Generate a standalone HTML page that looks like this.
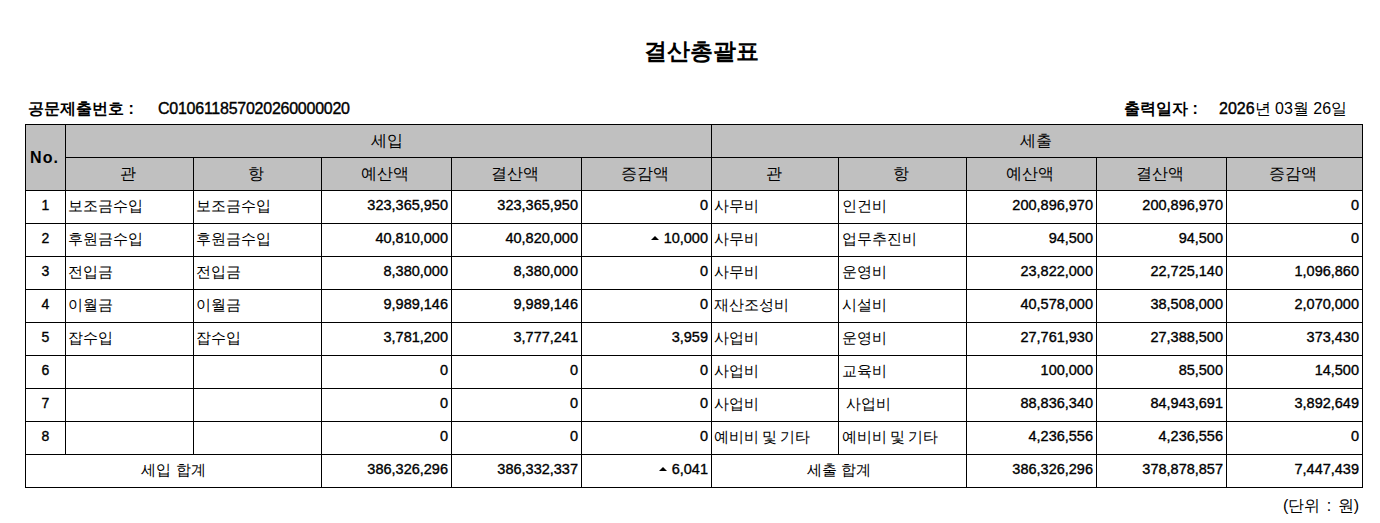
<!DOCTYPE html>
<html><head><meta charset="utf-8"><style>
html,body{margin:0;padding:0;background:#fff;}
body{width:1380px;height:523px;position:relative;overflow:hidden;font-family:"Liberation Sans",sans-serif;color:#000;}
.bg{position:absolute;background:#c0c0c0;}
.ln{position:absolute;background:#000;}
.cell{position:absolute;display:flex;align-items:center;box-sizing:border-box;white-space:nowrap;}
.ac{justify-content:center;}
.hd.ac{padding-right:3px;}
.ar{justify-content:flex-end;padding-right:3px;}
.al{justify-content:flex-start;padding-left:2px;}
.al.k6{padding-left:2px;}
.al.k7{padding-left:3px;}
.hno{font-size:16px;font-weight:bold;letter-spacing:1px;padding-right:2px;}
.hd{font-size:16px;}
.no{font-size:14px;-webkit-text-stroke:0.35px #000;padding-bottom:4px;}
.num{font-size:14.5px;-webkit-text-stroke:0.35px #000;padding-bottom:4px;}
.kr{font-size:14.8px;padding-bottom:2px;}
.ws{word-spacing:-1px;}
.tot{font-size:15px;padding-bottom:2px;}
.tri{display:inline-block;width:0;height:0;border-left:4px solid transparent;border-right:4px solid transparent;border-bottom:4px solid #000;margin-right:5px;vertical-align:middle;position:relative;top:-1px;}
.t{position:absolute;white-space:nowrap;line-height:1;}
</style></head><body>
<div class="t" style="left:0;width:1402px;text-align:center;top:41px;font-size:22.5px;font-weight:bold;">결산총괄표</div>
<div class="t" style="left:28px;top:101px;font-size:16px;font-weight:bold;">공문제출번호 :</div>
<div class="t" style="left:158px;top:101px;font-size:16px;letter-spacing:-0.25px;-webkit-text-stroke:0.4px #000;">C010611857020260000020</div>
<div class="t" style="left:1124px;top:101px;font-size:16px;font-weight:bold;">출력일자 :</div>
<div class="t" style="left:1219px;top:101px;font-size:16px;"><span style="-webkit-text-stroke:0.4px #000">2026</span>년 03월 26일</div>
<div class="bg" style="left:25px;top:124px;width:1337px;height:66px"></div>
<div class="ln" style="left:25px;top:124px;width:1338px;height:1px"></div>
<div class="ln" style="left:65px;top:157px;width:1298px;height:1px"></div>
<div class="ln" style="left:25px;top:190px;width:1338px;height:1px"></div>
<div class="ln" style="left:25px;top:223px;width:1338px;height:1px"></div>
<div class="ln" style="left:25px;top:256px;width:1338px;height:1px"></div>
<div class="ln" style="left:25px;top:289px;width:1338px;height:1px"></div>
<div class="ln" style="left:25px;top:322px;width:1338px;height:1px"></div>
<div class="ln" style="left:25px;top:355px;width:1338px;height:1px"></div>
<div class="ln" style="left:25px;top:388px;width:1338px;height:1px"></div>
<div class="ln" style="left:25px;top:421px;width:1338px;height:1px"></div>
<div class="ln" style="left:25px;top:454px;width:1338px;height:1px"></div>
<div class="ln" style="left:25px;top:487px;width:1338px;height:1px"></div>
<div class="ln" style="left:25px;top:124px;width:1px;height:364px"></div>
<div class="ln" style="left:1362px;top:124px;width:1px;height:364px"></div>
<div class="ln" style="left:65px;top:124px;width:1px;height:331px"></div>
<div class="ln" style="left:711px;top:124px;width:1px;height:364px"></div>
<div class="ln" style="left:193px;top:157px;width:1px;height:298px"></div>
<div class="ln" style="left:321px;top:157px;width:1px;height:331px"></div>
<div class="ln" style="left:451px;top:157px;width:1px;height:331px"></div>
<div class="ln" style="left:581px;top:157px;width:1px;height:331px"></div>
<div class="ln" style="left:966px;top:157px;width:1px;height:331px"></div>
<div class="ln" style="left:1096px;top:157px;width:1px;height:331px"></div>
<div class="ln" style="left:1226px;top:157px;width:1px;height:331px"></div>
<div class="ln" style="left:838px;top:157px;width:1px;height:298px"></div>
<div class="cell hno ac" style="left:26px;top:125px;width:39px;height:65px"><span>No.</span></div>
<div class="cell hd ac" style="left:66px;top:125px;width:645px;height:32px"><span>세입</span></div>
<div class="cell hd ac" style="left:712px;top:125px;width:650px;height:32px"><span>세출</span></div>
<div class="cell hd ac" style="left:66px;top:158px;width:127px;height:32px"><span>관</span></div>
<div class="cell hd ac" style="left:194px;top:158px;width:127px;height:32px"><span>항</span></div>
<div class="cell hd ac" style="left:322px;top:158px;width:129px;height:32px"><span>예산액</span></div>
<div class="cell hd ac" style="left:452px;top:158px;width:129px;height:32px"><span>결산액</span></div>
<div class="cell hd ac" style="left:582px;top:158px;width:129px;height:32px"><span>증감액</span></div>
<div class="cell hd ac" style="left:712px;top:158px;width:126px;height:32px"><span>관</span></div>
<div class="cell hd ac" style="left:839px;top:158px;width:127px;height:32px"><span>항</span></div>
<div class="cell hd ac" style="left:967px;top:158px;width:129px;height:32px"><span>예산액</span></div>
<div class="cell hd ac" style="left:1097px;top:158px;width:129px;height:32px"><span>결산액</span></div>
<div class="cell hd ac" style="left:1227px;top:158px;width:135px;height:32px"><span>증감액</span></div>
<div class="cell no ac" style="left:26px;top:191px;width:39px;height:32px"><span>1</span></div>
<div class="cell kr k al" style="left:66px;top:191px;width:127px;height:32px"><span>보조금수입</span></div>
<div class="cell kr k al" style="left:194px;top:191px;width:127px;height:32px"><span>보조금수입</span></div>
<div class="cell num ar" style="left:322px;top:191px;width:129px;height:32px"><span>323,365,950</span></div>
<div class="cell num ar" style="left:452px;top:191px;width:129px;height:32px"><span>323,365,950</span></div>
<div class="cell num ar" style="left:582px;top:191px;width:129px;height:32px"><span>0</span></div>
<div class="cell kr k6 al" style="left:712px;top:191px;width:126px;height:32px"><span>사무비</span></div>
<div class="cell kr k7 al" style="left:839px;top:191px;width:127px;height:32px"><span>인건비</span></div>
<div class="cell num ar" style="left:967px;top:191px;width:129px;height:32px"><span>200,896,970</span></div>
<div class="cell num ar" style="left:1097px;top:191px;width:129px;height:32px"><span>200,896,970</span></div>
<div class="cell num ar" style="left:1227px;top:191px;width:135px;height:32px"><span>0</span></div>
<div class="cell no ac" style="left:26px;top:224px;width:39px;height:32px"><span>2</span></div>
<div class="cell kr k al" style="left:66px;top:224px;width:127px;height:32px"><span>후원금수입</span></div>
<div class="cell kr k al" style="left:194px;top:224px;width:127px;height:32px"><span>후원금수입</span></div>
<div class="cell num ar" style="left:322px;top:224px;width:129px;height:32px"><span>40,810,000</span></div>
<div class="cell num ar" style="left:452px;top:224px;width:129px;height:32px"><span>40,820,000</span></div>
<div class="cell num ar" style="left:582px;top:224px;width:129px;height:32px"><span><i class="tri"></i>10,000</span></div>
<div class="cell kr k6 al" style="left:712px;top:224px;width:126px;height:32px"><span>사무비</span></div>
<div class="cell kr k7 al" style="left:839px;top:224px;width:127px;height:32px"><span>업무추진비</span></div>
<div class="cell num ar" style="left:967px;top:224px;width:129px;height:32px"><span>94,500</span></div>
<div class="cell num ar" style="left:1097px;top:224px;width:129px;height:32px"><span>94,500</span></div>
<div class="cell num ar" style="left:1227px;top:224px;width:135px;height:32px"><span>0</span></div>
<div class="cell no ac" style="left:26px;top:257px;width:39px;height:32px"><span>3</span></div>
<div class="cell kr k al" style="left:66px;top:257px;width:127px;height:32px"><span>전입금</span></div>
<div class="cell kr k al" style="left:194px;top:257px;width:127px;height:32px"><span>전입금</span></div>
<div class="cell num ar" style="left:322px;top:257px;width:129px;height:32px"><span>8,380,000</span></div>
<div class="cell num ar" style="left:452px;top:257px;width:129px;height:32px"><span>8,380,000</span></div>
<div class="cell num ar" style="left:582px;top:257px;width:129px;height:32px"><span>0</span></div>
<div class="cell kr k6 al" style="left:712px;top:257px;width:126px;height:32px"><span>사무비</span></div>
<div class="cell kr k7 al" style="left:839px;top:257px;width:127px;height:32px"><span>운영비</span></div>
<div class="cell num ar" style="left:967px;top:257px;width:129px;height:32px"><span>23,822,000</span></div>
<div class="cell num ar" style="left:1097px;top:257px;width:129px;height:32px"><span>22,725,140</span></div>
<div class="cell num ar" style="left:1227px;top:257px;width:135px;height:32px"><span>1,096,860</span></div>
<div class="cell no ac" style="left:26px;top:290px;width:39px;height:32px"><span>4</span></div>
<div class="cell kr k al" style="left:66px;top:290px;width:127px;height:32px"><span>이월금</span></div>
<div class="cell kr k al" style="left:194px;top:290px;width:127px;height:32px"><span>이월금</span></div>
<div class="cell num ar" style="left:322px;top:290px;width:129px;height:32px"><span>9,989,146</span></div>
<div class="cell num ar" style="left:452px;top:290px;width:129px;height:32px"><span>9,989,146</span></div>
<div class="cell num ar" style="left:582px;top:290px;width:129px;height:32px"><span>0</span></div>
<div class="cell kr k6 al" style="left:712px;top:290px;width:126px;height:32px"><span>재산조성비</span></div>
<div class="cell kr k7 al" style="left:839px;top:290px;width:127px;height:32px"><span>시설비</span></div>
<div class="cell num ar" style="left:967px;top:290px;width:129px;height:32px"><span>40,578,000</span></div>
<div class="cell num ar" style="left:1097px;top:290px;width:129px;height:32px"><span>38,508,000</span></div>
<div class="cell num ar" style="left:1227px;top:290px;width:135px;height:32px"><span>2,070,000</span></div>
<div class="cell no ac" style="left:26px;top:323px;width:39px;height:32px"><span>5</span></div>
<div class="cell kr k al" style="left:66px;top:323px;width:127px;height:32px"><span>잡수입</span></div>
<div class="cell kr k al" style="left:194px;top:323px;width:127px;height:32px"><span>잡수입</span></div>
<div class="cell num ar" style="left:322px;top:323px;width:129px;height:32px"><span>3,781,200</span></div>
<div class="cell num ar" style="left:452px;top:323px;width:129px;height:32px"><span>3,777,241</span></div>
<div class="cell num ar" style="left:582px;top:323px;width:129px;height:32px"><span>3,959</span></div>
<div class="cell kr k6 al" style="left:712px;top:323px;width:126px;height:32px"><span>사업비</span></div>
<div class="cell kr k7 al" style="left:839px;top:323px;width:127px;height:32px"><span>운영비</span></div>
<div class="cell num ar" style="left:967px;top:323px;width:129px;height:32px"><span>27,761,930</span></div>
<div class="cell num ar" style="left:1097px;top:323px;width:129px;height:32px"><span>27,388,500</span></div>
<div class="cell num ar" style="left:1227px;top:323px;width:135px;height:32px"><span>373,430</span></div>
<div class="cell no ac" style="left:26px;top:356px;width:39px;height:32px"><span>6</span></div>
<div class="cell kr k al" style="left:66px;top:356px;width:127px;height:32px"><span></span></div>
<div class="cell kr k al" style="left:194px;top:356px;width:127px;height:32px"><span></span></div>
<div class="cell num ar" style="left:322px;top:356px;width:129px;height:32px"><span>0</span></div>
<div class="cell num ar" style="left:452px;top:356px;width:129px;height:32px"><span>0</span></div>
<div class="cell num ar" style="left:582px;top:356px;width:129px;height:32px"><span>0</span></div>
<div class="cell kr k6 al" style="left:712px;top:356px;width:126px;height:32px"><span>사업비</span></div>
<div class="cell kr k7 al" style="left:839px;top:356px;width:127px;height:32px"><span>교육비</span></div>
<div class="cell num ar" style="left:967px;top:356px;width:129px;height:32px"><span>100,000</span></div>
<div class="cell num ar" style="left:1097px;top:356px;width:129px;height:32px"><span>85,500</span></div>
<div class="cell num ar" style="left:1227px;top:356px;width:135px;height:32px"><span>14,500</span></div>
<div class="cell no ac" style="left:26px;top:389px;width:39px;height:32px"><span>7</span></div>
<div class="cell kr k al" style="left:66px;top:389px;width:127px;height:32px"><span></span></div>
<div class="cell kr k al" style="left:194px;top:389px;width:127px;height:32px"><span></span></div>
<div class="cell num ar" style="left:322px;top:389px;width:129px;height:32px"><span>0</span></div>
<div class="cell num ar" style="left:452px;top:389px;width:129px;height:32px"><span>0</span></div>
<div class="cell num ar" style="left:582px;top:389px;width:129px;height:32px"><span>0</span></div>
<div class="cell kr k6 al" style="left:712px;top:389px;width:126px;height:32px"><span>사업비</span></div>
<div class="cell kr k7 al" style="left:839px;top:389px;width:127px;height:32px"><span>&nbsp;사업비</span></div>
<div class="cell num ar" style="left:967px;top:389px;width:129px;height:32px"><span>88,836,340</span></div>
<div class="cell num ar" style="left:1097px;top:389px;width:129px;height:32px"><span>84,943,691</span></div>
<div class="cell num ar" style="left:1227px;top:389px;width:135px;height:32px"><span>3,892,649</span></div>
<div class="cell no ac" style="left:26px;top:422px;width:39px;height:32px"><span>8</span></div>
<div class="cell kr k al" style="left:66px;top:422px;width:127px;height:32px"><span></span></div>
<div class="cell kr k al" style="left:194px;top:422px;width:127px;height:32px"><span></span></div>
<div class="cell num ar" style="left:322px;top:422px;width:129px;height:32px"><span>0</span></div>
<div class="cell num ar" style="left:452px;top:422px;width:129px;height:32px"><span>0</span></div>
<div class="cell num ar" style="left:582px;top:422px;width:129px;height:32px"><span>0</span></div>
<div class="cell kr k6 ws al" style="left:712px;top:422px;width:126px;height:32px"><span>예비비 및 기타</span></div>
<div class="cell kr k7 ws al" style="left:839px;top:422px;width:127px;height:32px"><span>예비비 및 기타</span></div>
<div class="cell num ar" style="left:967px;top:422px;width:129px;height:32px"><span>4,236,556</span></div>
<div class="cell num ar" style="left:1097px;top:422px;width:129px;height:32px"><span>4,236,556</span></div>
<div class="cell num ar" style="left:1227px;top:422px;width:135px;height:32px"><span>0</span></div>
<div class="cell tot ac" style="left:26px;top:455px;width:295px;height:32px"><span>세입 합계</span></div>
<div class="cell num ar" style="left:322px;top:455px;width:129px;height:32px"><span>386,326,296</span></div>
<div class="cell num ar" style="left:452px;top:455px;width:129px;height:32px"><span>386,332,337</span></div>
<div class="cell num ar" style="left:582px;top:455px;width:129px;height:32px"><span><i class="tri"></i>6,041</span></div>
<div class="cell tot ac" style="left:712px;top:455px;width:254px;height:32px"><span>세출 합계</span></div>
<div class="cell num ar" style="left:967px;top:455px;width:129px;height:32px"><span>386,326,296</span></div>
<div class="cell num ar" style="left:1097px;top:455px;width:129px;height:32px"><span>378,878,857</span></div>
<div class="cell num ar" style="left:1227px;top:455px;width:135px;height:32px"><span>7,447,439</span></div>
<div class="t" style="left:1283px;top:498px;font-size:16px;word-spacing:2px;">(단위 : 원)</div>
</body></html>
